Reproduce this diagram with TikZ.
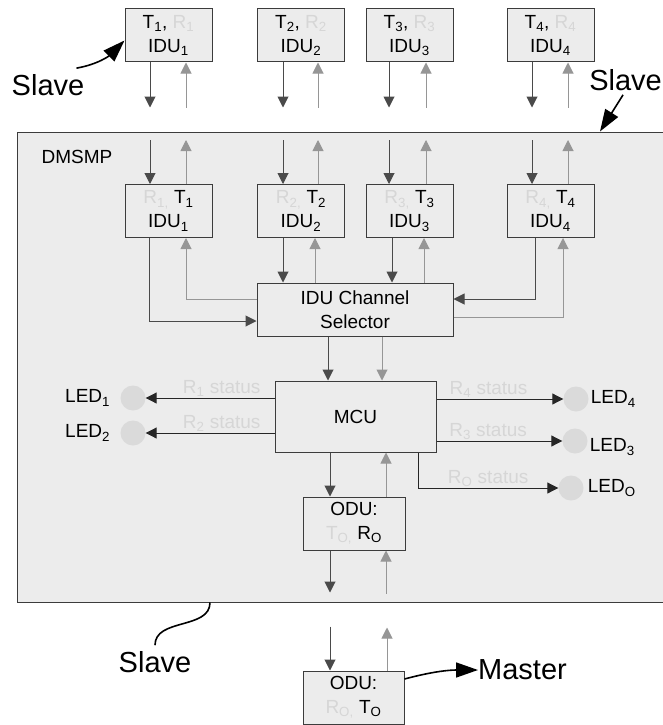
\documentclass[tikz,border=0pt]{standalone}
\usepackage{fontspec}
\setmainfont{Liberation Sans}
\usetikzlibrary{arrows.meta,positioning,calc}
\definecolor{boxline}{HTML}{3C3C3C}
\definecolor{panel}{HTML}{ECECEC}
\definecolor{darkln}{HTML}{4A4A4A}
\definecolor{lightln}{HTML}{969696}
\definecolor{faint}{HTML}{D6D6D6}
\definecolor{ledgray}{HTML}{DADADA}

\begin{document}
\begin{tikzpicture}[x=1pt,y=-1pt,font=\fontsize{19}{24}\selectfont,
 box/.style={draw=boxline,line width=1pt,minimum width=87pt,minimum height=53pt,align=center,inner sep=0pt},
 tx/.style={darkln,line width=1pt,-{Triangle[length=11pt,width=11pt]}},
 rx/.style={lightln,line width=1pt,-{Triangle[length=11pt,width=11pt]}},
 ledarr/.style={black!85,line width=1pt,-{Triangle[length=11pt,width=11pt]}},
 led/.style={circle,fill=ledgray,minimum size=25pt,inner sep=0pt},
 ledlab/.style={inner sep=1pt},
 stat/.style={text=faint,inner sep=1pt},
 big/.style={font=\fontsize{29}{32}\selectfont,inner sep=0pt},
 bigarr/.style={black,line width=1.6pt,-{Triangle[length=22pt,width=15pt]}}]
\clip (0,0) rectangle (663,725);
\node[draw=boxline,fill=panel,line width=1pt,minimum width=680pt,minimum height=470pt,inner sep=0pt] (dmsmp) at (357,367) {};
\node[anchor=west] (dmlab) at (38,157) {DMSMP};

\node[box,fill=panel] (o1) at (168.5,35.5) {T\textsubscript{1}, \textcolor{faint}{R\textsubscript{1}}\\IDU\textsubscript{1}};
\node[box,fill=panel] (o2) at (301,35.5) {T\textsubscript{2}, \textcolor{faint}{R\textsubscript{2}}\\IDU\textsubscript{2}};
\node[box,fill=panel] (o3) at (409.5,35.5) {T\textsubscript{3}, \textcolor{faint}{R\textsubscript{3}}\\IDU\textsubscript{3}};
\node[box,fill=panel] (o4) at (550.5,35.5) {T\textsubscript{4}, \textcolor{faint}{R\textsubscript{4}}\\IDU\textsubscript{4}};

\node[box] (i1) at (168.5,211) {\textcolor{faint}{R\textsubscript{1,}} T\textsubscript{1}\\IDU\textsubscript{1}};
\node[box] (i2) at (301,211) {\textcolor{faint}{R\textsubscript{2,}} T\textsubscript{2}\\IDU\textsubscript{2}};
\node[box] (i3) at (409.5,211) {\textcolor{faint}{R\textsubscript{3,}} T\textsubscript{3}\\IDU\textsubscript{3}};
\node[box] (i4) at (550.5,211) {\textcolor{faint}{R\textsubscript{4,}} T\textsubscript{4}\\IDU\textsubscript{4}};

\node[box,minimum width=196pt] (sel) at (355,309.5) {IDU Channel\\Selector};
\node[box,minimum width=161pt,minimum height=71pt] (mcu) at (355.5,416.5) {MCU};
\node[box,minimum width=102pt] (odu) at (354,523.5) {ODU:\\\textcolor{faint}{T\textsubscript{O,}} R\textsubscript{O}};
\node[box,fill=panel,minimum width=101pt] (odu2) at (353.5,697.5) {ODU:\\\textcolor{faint}{R\textsubscript{O,}} T\textsubscript{O}};

\draw[tx] ([xshift=-18.5pt]o1.south) -- ++(0,45);
\draw[rx] ([xshift=17.5pt]o1.south) ++(0,45) -- ++(0,-45);
\draw[tx] ([xshift=-18pt]o2.south) -- ++(0,45);
\draw[rx] ([xshift=17pt]o2.south) ++(0,45) -- ++(0,-45);
\draw[tx] ([xshift=-20.5pt]o3.south) -- ++(0,45);
\draw[rx] ([xshift=16.5pt]o3.south) ++(0,45) -- ++(0,-45);
\draw[tx] ([xshift=-18.5pt]o4.south) -- ++(0,45);
\draw[rx] ([xshift=17.5pt]o4.south) ++(0,45) -- ++(0,-45);

\draw[tx] ([xshift=-18.5pt]i1.north) ++(0,-44) -- ++(0,44);
\draw[rx] ([xshift=17.5pt]i1.north) -- ++(0,-44);
\draw[tx] ([xshift=-18pt]i2.north) ++(0,-44) -- ++(0,44);
\draw[rx] ([xshift=17pt]i2.north) -- ++(0,-44);
\draw[tx] ([xshift=-20.5pt]i3.north) ++(0,-44) -- ++(0,44);
\draw[rx] ([xshift=16.5pt]i3.north) -- ++(0,-44);
\draw[tx] ([xshift=-18.5pt]i4.north) ++(0,-44) -- ++(0,44);
\draw[rx] ([xshift=17.5pt]i4.north) -- ++(0,-44);

\draw[tx] ([xshift=-19.5pt]i1.south) |- ([yshift=-11.5pt]sel.west);
\draw[rx] ([yshift=10.5pt]sel.west) -| ([xshift=17.5pt]i1.south);
\draw[tx] ([xshift=-18pt]i2.south) -- ([xshift=-18pt]i2.south |- sel.north);
\draw[rx] ([xshift=14pt]i2.south |- sel.north) -- ([xshift=14pt]i2.south);
\draw[tx] ([xshift=-17.5pt]i3.south) -- ([xshift=-17.5pt]i3.south |- sel.north);
\draw[rx] ([xshift=14.5pt]i3.south |- sel.north) -- ([xshift=14.5pt]i3.south);
\draw[tx] ([xshift=-15.5pt]i4.south) |- ([yshift=10.5pt]sel.east);
\draw[rx] ([yshift=-7.5pt]sel.east) -| ([xshift=12.5pt]i4.south);

\draw[tx] ([xshift=-27pt]sel.south) -- ([xshift=-27pt]sel.south |- mcu.north);
\draw[rx] ([xshift=27pt]sel.south) -- ([xshift=27pt]sel.south |- mcu.north);
\draw[tx] ([xshift=-24pt]odu.north |- mcu.south) -- ([xshift=-24pt]odu.north);
\draw[rx] ([xshift=32pt]odu.north) -- ([xshift=32pt]odu.north |- mcu.south);
\draw[tx] ([xshift=-24pt]odu.south) -- ++(0,42);
\draw[rx] ([xshift=32pt]odu.south) ++(0,43) -- ++(0,-43);
\draw[tx] ([xshift=-23.5pt]odu2.north) ++(0,-44) -- ++(0,44);
\draw[rx] ([xshift=33.5pt]odu2.north) -- ++(0,-43);

\node[led] (led1) at (133,398) {};
\node[led] (led2) at (133,433) {};
\node[led] (led4) at (576,399) {};
\node[led] (led3) at (575,441) {};
\node[led] (ledo) at (571,488) {};
\node[ledlab,left=9pt of led1] (lab1) {LED\textsubscript{1}};
\node[ledlab,left=9pt of led2] (lab2) {LED\textsubscript{2}};
\node[ledlab,right=1pt of led4] (lab4) {LED\textsubscript{4}};
\node[ledlab,right=1pt of led3,yshift=-6pt] (lab3) {LED\textsubscript{3}};
\node[ledlab,right=3pt of ledo] (labo) {LED\textsubscript{O}};

\draw[ledarr] (mcu.west |- led1) -- (led1) node[stat,pos=0.41,above] {R\textsubscript{1} status};
\draw[ledarr] (mcu.west |- led2) -- (led2) node[stat,pos=0.41,above] {R\textsubscript{2} status};
\draw[ledarr] (mcu.east |- led4) -- (led4) node[stat,pos=0.41,above] {R\textsubscript{4} status};
\draw[ledarr] (mcu.east |- led3) -- (led3) node[stat,pos=0.41,above] {R\textsubscript{3} status};
\draw[ledarr] ([xshift=62.5pt]mcu.south) |- (ledo) node[stat,pos=0.75,above] {R\textsubscript{O} status};

\node[big] (sl1) at (48,85) {Slave};
\draw[bigarr] ([shift={(-8pt,6pt)}]sl1.north east) to[out=10,in=225] ([yshift=-5pt]o1.west);
\node[big,anchor=east] (sl2) at (662,80) {Slave};
\draw[bigarr] ([shift={(34pt,-4pt)}]sl2.south west) -- ([xshift=243pt]dmsmp.north);
\node[big] (sl3) at (155,662) {Slave};
\draw[black,line width=1.6pt] ([yshift=6pt]sl3.north) to[out=90,in=-90] ([xshift=-147pt]dmsmp.south);
\node[big,anchor=west] (ms) at (478,670) {Master};
\draw[bigarr] ([yshift=18.5pt]odu2.east) to[out=15,in=180] (ms.west);
\end{tikzpicture}
\end{document}
